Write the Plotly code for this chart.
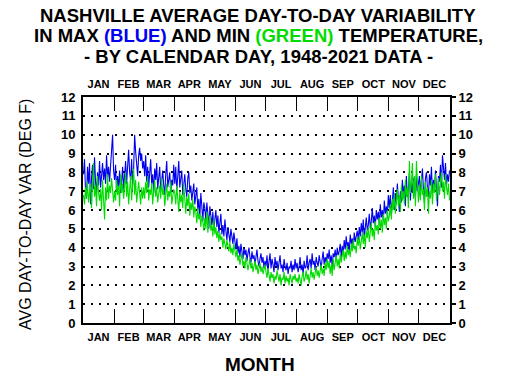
import plotly.graph_objects as go

months = ["JAN", "FEB", "MAR", "APR", "MAY", "JUN", "JUL", "AUG", "SEP", "OCT", "NOV", "DEC"]
month_days = [31, 29, 31, 30, 31, 30, 31, 31, 30, 31, 30, 31]
y_ticks = list(range(0, 13))

# Daily average day-to-day variability of MAX temperature (blue), by month
blue_jan = [7.9, 8.7, 7.0, 6.6, 8.3, 7.4, 8.5, 6.3, 7.7, 8.4, 7.1, 8.8, 7.5, 6.9, 8.0, 7.3, 8.6, 7.2, 7.8, 8.5, 7.6, 8.2, 7.4, 8.9, 7.7, 8.3, 7.5, 8.6, 9.4, 10.0, 8.1]
blue_feb = [7.6, 8.4, 7.0, 7.8, 7.2, 8.1, 6.9, 7.5, 8.3, 7.1, 7.9, 8.6, 7.4, 8.8, 9.2, 8.0, 7.6, 8.7, 7.3, 8.2, 10.0, 9.1, 8.4, 7.8, 8.9, 9.3, 8.6, 9.0, 8.2]
blue_mar = [8.6, 7.8, 8.9, 7.5, 8.3, 7.2, 8.0, 8.7, 7.4, 7.9, 6.9, 8.2, 7.6, 8.5, 7.1, 7.8, 8.3, 7.0, 7.7, 8.1, 7.3, 6.8, 7.9, 8.6, 7.2, 7.5, 8.0, 6.9, 7.6, 7.3, 8.4]
blue_apr = [7.4, 8.3, 7.0, 7.9, 8.6, 7.2, 7.6, 8.1, 6.8, 7.5, 7.9, 7.1, 6.7, 7.7, 8.0, 6.9, 7.3, 6.5, 7.0, 7.4, 6.3, 6.8, 7.2, 6.0, 6.6, 5.6, 6.9, 6.2, 5.4, 6.4]
blue_may = [6.1, 5.4, 6.4, 5.8, 5.0, 6.2, 5.6, 5.2, 5.9, 4.9, 5.5, 6.0, 5.1, 5.7, 4.8, 5.3, 5.8, 4.7, 5.2, 4.6, 5.5, 4.9, 4.4, 5.1, 4.6, 4.3, 5.0, 4.5, 4.2, 4.8, 4.4]
blue_jun = [3.9, 4.5, 3.7, 4.1, 3.5, 4.2, 3.8, 3.4, 4.0, 3.6, 3.9, 3.3, 3.7, 4.0, 3.5, 3.2, 3.8, 3.4, 3.6, 3.1, 3.5, 3.9, 3.3, 3.0, 3.4, 3.7, 3.2, 3.5, 2.9, 3.3]
blue_jul = [3.0, 3.6, 2.8, 3.3, 3.7, 2.9, 3.4, 3.1, 2.7, 3.5, 3.0, 3.3, 2.8, 3.2, 3.6, 2.9, 3.1, 2.7, 3.4, 3.0, 2.8, 3.2, 2.6, 3.0, 2.9, 3.3, 2.7, 3.1, 2.8, 3.4, 2.9]
blue_aug = [3.2, 2.7, 3.0, 3.5, 2.8, 3.1, 2.6, 3.3, 2.9, 3.0, 3.6, 2.8, 3.2, 3.4, 2.9, 3.7, 3.1, 3.3, 2.8, 3.5, 3.2, 3.0, 3.6, 3.3, 2.9, 3.4, 3.8, 3.1, 3.5, 3.2, 3.7]
blue_sep = [3.4, 3.9, 3.2, 3.6, 3.0, 3.7, 3.5, 3.9, 3.3, 4.0, 3.6, 3.8, 4.2, 3.5, 4.1, 3.7, 4.4, 3.9, 4.6, 4.0, 4.3, 3.8, 4.7, 4.2, 4.5, 4.0, 4.8, 4.3, 4.6, 4.9]
blue_oct = [4.4, 5.1, 4.6, 5.3, 4.8, 5.5, 4.5, 5.0, 5.6, 4.9, 5.2, 5.8, 5.0, 5.4, 6.1, 5.3, 5.7, 5.1, 6.0, 5.5, 5.9, 5.2, 6.3, 5.6, 6.0, 5.4, 6.5, 5.8, 6.2, 5.7, 6.8]
blue_nov = [6.1, 6.8, 5.7, 6.5, 7.2, 6.0, 6.9, 6.3, 7.4, 6.6, 5.9, 7.0, 6.4, 7.6, 6.8, 7.3, 6.2, 7.8, 6.7, 7.1, 8.0, 6.5, 7.5, 6.9, 7.7, 7.2, 6.6, 7.9, 7.0, 7.4]
blue_dec = [7.8, 6.9, 7.5, 8.2, 7.1, 6.4, 7.7, 8.0, 7.2, 6.7, 7.9, 7.3, 8.3, 6.8, 7.6, 7.0, 8.1, 7.4, 6.2, 7.8, 7.5, 8.4, 7.2, 8.9, 8.0, 7.6, 8.5, 7.3, 7.9, 7.5, 8.1]

# Daily average day-to-day variability of MIN temperature (green), by month
green_jan = [6.8, 6.3, 7.2, 6.6, 7.5, 6.4, 6.9, 7.4, 6.1, 7.0, 8.5, 6.7, 7.3, 6.2, 7.8, 6.9, 6.5, 7.1, 6.0, 7.6, 6.8, 5.5, 7.2, 6.5, 7.9, 6.6, 7.3, 6.9, 7.7, 7.1, 6.4]
green_feb = [7.0, 6.5, 7.6, 6.8, 7.3, 6.2, 7.9, 6.9, 7.4, 6.6, 7.2, 8.0, 6.7, 7.5, 6.3, 7.1, 7.8, 6.5, 7.3, 8.2, 6.8, 7.6, 6.4, 7.0, 7.5, 6.9, 6.3, 7.2, 6.6]
green_mar = [7.2, 6.6, 7.5, 6.9, 7.8, 6.5, 7.1, 6.8, 7.4, 6.3, 7.0, 7.6, 6.7, 7.2, 6.4, 6.9, 7.3, 6.6, 7.7, 6.8, 7.1, 6.2, 6.9, 7.4, 6.5, 7.0, 6.7, 7.5, 6.3, 6.8, 7.1]
green_apr = [6.9, 6.3, 7.3, 6.6, 5.9, 7.0, 6.4, 6.8, 6.1, 7.4, 6.5, 5.8, 6.7, 6.2, 6.9, 5.7, 6.4, 6.0, 6.6, 5.6, 6.2, 5.9, 5.3, 6.1, 5.5, 5.8, 5.1, 5.7, 5.4, 4.9]
green_may = [5.6, 5.0, 5.9, 4.8, 5.4, 5.7, 4.9, 5.2, 4.6, 5.5, 4.7, 5.1, 4.5, 4.9, 4.3, 4.8, 4.4, 4.6, 4.0, 4.5, 4.2, 3.9, 4.4, 4.1, 3.8, 4.3, 3.7, 4.0, 3.6, 4.2, 3.8]
green_jun = [3.5, 3.9, 3.3, 3.6, 3.1, 3.4, 3.7, 3.0, 3.3, 2.9, 3.5, 3.2, 2.8, 3.1, 3.4, 2.9, 3.2, 2.7, 3.0, 3.3, 2.8, 3.1, 2.6, 2.9, 3.2, 2.7, 3.0, 2.6, 2.8, 3.1]
green_jul = [2.7, 2.4, 2.9, 2.5, 2.2, 2.7, 2.4, 2.6, 2.1, 2.5, 2.3, 2.8, 2.4, 2.2, 2.6, 2.0, 2.4, 2.3, 2.7, 2.1, 2.5, 2.2, 2.4, 2.0, 2.6, 2.3, 2.1, 2.5, 2.3, 2.6, 2.2]
green_aug = [2.4, 2.1, 2.6, 2.3, 2.0, 2.5, 2.7, 2.2, 2.4, 2.8, 2.3, 2.6, 2.1, 2.5, 2.9, 2.4, 2.7, 2.3, 2.6, 3.0, 2.5, 2.8, 2.4, 2.7, 3.1, 2.6, 2.9, 2.5, 3.2, 2.8, 3.4]
green_sep = [2.9, 3.3, 2.6, 3.1, 2.5, 3.4, 2.8, 3.2, 3.6, 3.0, 3.4, 2.9, 3.7, 3.2, 3.5, 3.9, 3.3, 3.8, 3.4, 4.1, 3.6, 3.9, 3.5, 4.2, 3.8, 4.4, 3.9, 4.1, 3.7, 4.5]
green_oct = [4.1, 4.6, 3.9, 4.4, 4.8, 4.2, 4.7, 4.0, 4.9, 4.5, 5.1, 4.3, 4.8, 5.3, 4.6, 5.0, 4.4, 5.4, 4.9, 5.2, 4.7, 5.6, 5.0, 5.5, 4.8, 5.8, 5.2, 5.6, 5.0, 6.0, 5.4]
green_nov = [5.7, 6.3, 5.5, 6.6, 6.0, 6.9, 5.8, 6.4, 7.1, 6.2, 6.8, 5.9, 7.3, 6.5, 7.0, 6.3, 7.6, 6.7, 7.2, 6.1, 8.6, 6.9, 7.4, 8.5, 6.6, 7.8, 6.2, 8.6, 7.0, 6.4]
green_dec = [7.3, 6.5, 7.8, 6.8, 7.1, 6.0, 7.5, 6.7, 7.2, 5.8, 7.0, 6.6, 7.6, 6.3, 7.4, 6.9, 7.9, 6.5, 7.1, 7.7, 6.8, 7.3, 8.0, 7.0, 7.5, 6.6, 7.9, 7.2, 6.8, 7.4, 6.5]

blue = (blue_jan + blue_feb + blue_mar + blue_apr + blue_may + blue_jun +
        blue_jul + blue_aug + blue_sep + blue_oct + blue_nov + blue_dec)
green = (green_jan + green_feb + green_mar + green_apr + green_may + green_jun +
         green_jul + green_aug + green_sep + green_oct + green_nov + green_dec)
days = list(range(1, len(blue) + 1))

# month boundaries / centres on the day axis
bounds = []
centers = []
start = 0
for n in month_days:
    centers.append(start + n / 2 + 0.5)
    start += n
    bounds.append(start + 0.5)
bounds = bounds[:-1]

FONT = "Liberation Sans"
xrange_ = [0.5, len(days) + 0.5]

fig = go.Figure()
fig.add_trace(go.Scatter(x=days, y=blue, mode="lines",
                         line=dict(color="#0000F0", width=1.1),
                         xaxis="x", yaxis="y", showlegend=False, hoverinfo="skip"))
fig.add_trace(go.Scatter(x=days, y=green, mode="lines",
                         line=dict(color="#00DC00", width=1.1),
                         xaxis="x2", yaxis="y2", showlegend=False, hoverinfo="skip"))

xcommon = dict(range=xrange_, tickmode="array", tickvals=centers, ticktext=months,
               ticks="", showgrid=False, zeroline=False, showline=True,
               linecolor="black", linewidth=2,
               tickfont=dict(family=FONT, size=11, color="black", weight="bold"),
               minor=dict(tickmode="array", tickvals=bounds, ticks="inside",
                          ticklen=14, tickwidth=1, tickcolor="black"))
ycommon = dict(range=[0, 12], tickmode="array", tickvals=y_ticks,
               zeroline=False, showline=True, linecolor="black", linewidth=2,
               tickfont=dict(family=FONT, size=13, color="black", weight="bold"))

fig.update_layout(
    width=506, height=390,
    paper_bgcolor="white", plot_bgcolor="white",
    margin=dict(l=83, r=56, t=97, b=67),
    xaxis=dict(side="bottom", ticklabelstandoff=3, **xcommon),
    xaxis2=dict(side="top", overlaying="x", ticklabelstandoff=3, **xcommon),
    yaxis=dict(side="left", ticks="", showgrid=True, gridcolor="black",
               griddash="2px,6px", gridwidth=1.5, ticklabelstandoff=3, **ycommon),
    yaxis2=dict(side="right", overlaying="y", ticks="outside", ticklen=4,
                tickwidth=1.5, tickcolor="black", showgrid=False, **ycommon),
)

# helpers converting page pixels to paper coordinates (plot area: x 83..450, y 97..323)
def py(px):
    return (323 - px) / 226

def pxx(px):
    return (px - 83) / 367

title_lines = [
    ("<b>NASHVILLE AVERAGE DAY-TO-DAY VARIABILITY</b>", 15.5),
    ("<b>IN MAX <span style='color:#0000F0'>(BLUE)</span> AND MIN "
     "<span style='color:#00DC00'>(GREEN)</span> TEMPERATURE,</b>", 36),
    ("<b>- BY CALENDAR DAY, 1948-2021 DATA -</b>", 56),
]
for txt, ypx in title_lines:
    fig.add_annotation(text=txt, x=pxx(258), y=py(ypx), xref="paper", yref="paper",
                       xanchor="center", yanchor="middle", showarrow=False,
                       font=dict(family=FONT, size=18.5, color="black"))
fig.add_annotation(text="AVG DAY-TO-DAY VAR (DEG F)", textangle=-90,
                   x=pxx(25), y=py(215), xref="paper", yref="paper",
                   xanchor="center", yanchor="middle", showarrow=False,
                   font=dict(family=FONT, size=16, color="black"))
fig.add_annotation(text="<b>MONTH</b>", x=pxx(260), y=py(364.5), xref="paper", yref="paper",
                   xanchor="center", yanchor="middle", showarrow=False,
                   font=dict(family=FONT, size=19, color="black"))

fig.write_html("out.html", config={"displayModeBar": False},
               post_script="document.body.style.margin='0';")
